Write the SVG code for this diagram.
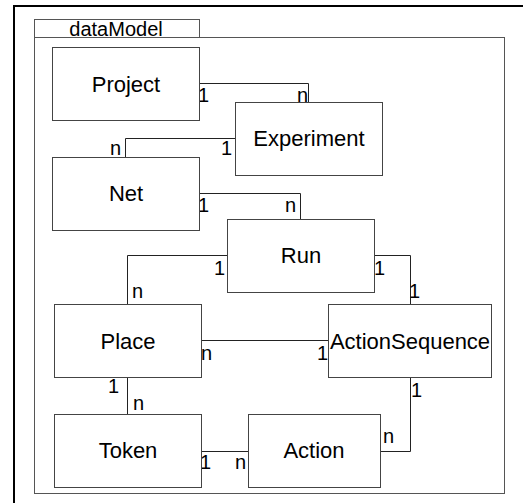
<svg xmlns="http://www.w3.org/2000/svg" width="523" height="503" viewBox="0 0 523 503">
  <style>
    .frame { fill: none; stroke: #000; stroke-width: 2; }
    .pkg { fill: none; stroke: #555; stroke-width: 1; }
    .box { fill: #fff; stroke: #444; stroke-width: 1; }
    .conn { fill: none; stroke: #222; stroke-width: 1; }
    .name { font-family: "Liberation Sans", Arial, sans-serif; font-size: 22px; fill: #000; text-anchor: middle; }
    .pkgname { font-family: "Liberation Sans", Arial, sans-serif; font-size: 20px; fill: #000; text-anchor: middle; }
    .mult { font-family: "Liberation Sans", Arial, sans-serif; font-size: 20px; fill: #000; }
  </style>
  <rect width="523" height="503" fill="#fff"/>
  <!-- outer frame (right and bottom edges run past the canvas) -->
  <rect class="frame" x="14" y="6" width="530" height="520"/>

  <!-- package dataModel -->
  <g id="dataModel">
    <rect class="pkg" x="34.5" y="19.5" width="165" height="18"/>
    <rect class="pkg" x="34.5" y="37.5" width="470" height="456"/>
    <text class="pkgname" x="116" y="36">dataModel</text>
  </g>

  <!-- associations -->
  <g id="connectors">
    <path class="conn" d="M199.5 83.5 H308.5 V102.5"/>
    <path class="conn" d="M235.5 138.5 H125.5 V157.5"/>
    <path class="conn" d="M199.5 193.5 H300.5 V219.5"/>
    <path class="conn" d="M227.5 255.5 H127.5 V304.5"/>
    <path class="conn" d="M374.5 255.5 H410.5 V304.5"/>
    <path class="conn" d="M201.5 340.5 H328.5"/>
    <path class="conn" d="M127.5 377.5 V414.5"/>
    <path class="conn" d="M201.5 451.5 H248.5"/>
    <path class="conn" d="M380.5 451.5 H410.5 V377.5"/>

    <!-- multiplicities -->
    <text class="mult" x="198" y="102">1</text>
    <text class="mult" x="297" y="102">n</text>
    <text class="mult" x="110" y="155">n</text>
    <text class="mult" x="221" y="155">1</text>
    <text class="mult" x="198" y="212">1</text>
    <text class="mult" x="285" y="212">n</text>
    <text class="mult" x="214" y="275">1</text>
    <text class="mult" x="132" y="298">n</text>
    <text class="mult" x="374" y="275">1</text>
    <text class="mult" x="409" y="298">1</text>
    <text class="mult" x="201" y="360">n</text>
    <text class="mult" x="317" y="360">1</text>
    <text class="mult" x="108" y="393">1</text>
    <text class="mult" x="133" y="410">n</text>
    <text class="mult" x="200" y="469">1</text>
    <text class="mult" x="235" y="469">n</text>
    <text class="mult" x="411" y="397">1</text>
    <text class="mult" x="383" y="443">n</text>
  </g>

  <g id="Project">
    <rect class="box" x="52.5" y="47.5" width="147" height="73"/>
    <text class="name" x="126" y="92">Project</text>
  </g>
  <g id="Experiment">
    <rect class="box" x="235.5" y="102.5" width="147" height="73"/>
    <text class="name" x="309" y="146">Experiment</text>
  </g>
  <g id="Net">
    <rect class="box" x="52.5" y="157.5" width="147" height="73"/>
    <text class="name" x="126" y="201">Net</text>
  </g>
  <g id="Run">
    <rect class="box" x="227.5" y="219.5" width="147" height="73"/>
    <text class="name" x="301" y="263">Run</text>
  </g>
  <g id="Place">
    <rect class="box" x="54.5" y="304.5" width="147" height="73"/>
    <text class="name" x="128" y="349">Place</text>
  </g>
  <g id="ActionSequence">
    <rect class="box" x="328.5" y="304.5" width="163" height="73"/>
    <text class="name" x="410" y="349">ActionSequence</text>
  </g>
  <g id="Token">
    <rect class="box" x="54.5" y="414.5" width="147" height="73"/>
    <text class="name" x="128" y="458">Token</text>
  </g>
  <g id="Action">
    <rect class="box" x="248.5" y="414.5" width="132" height="73"/>
    <text class="name" x="314" y="458">Action</text>
  </g>
</svg>
